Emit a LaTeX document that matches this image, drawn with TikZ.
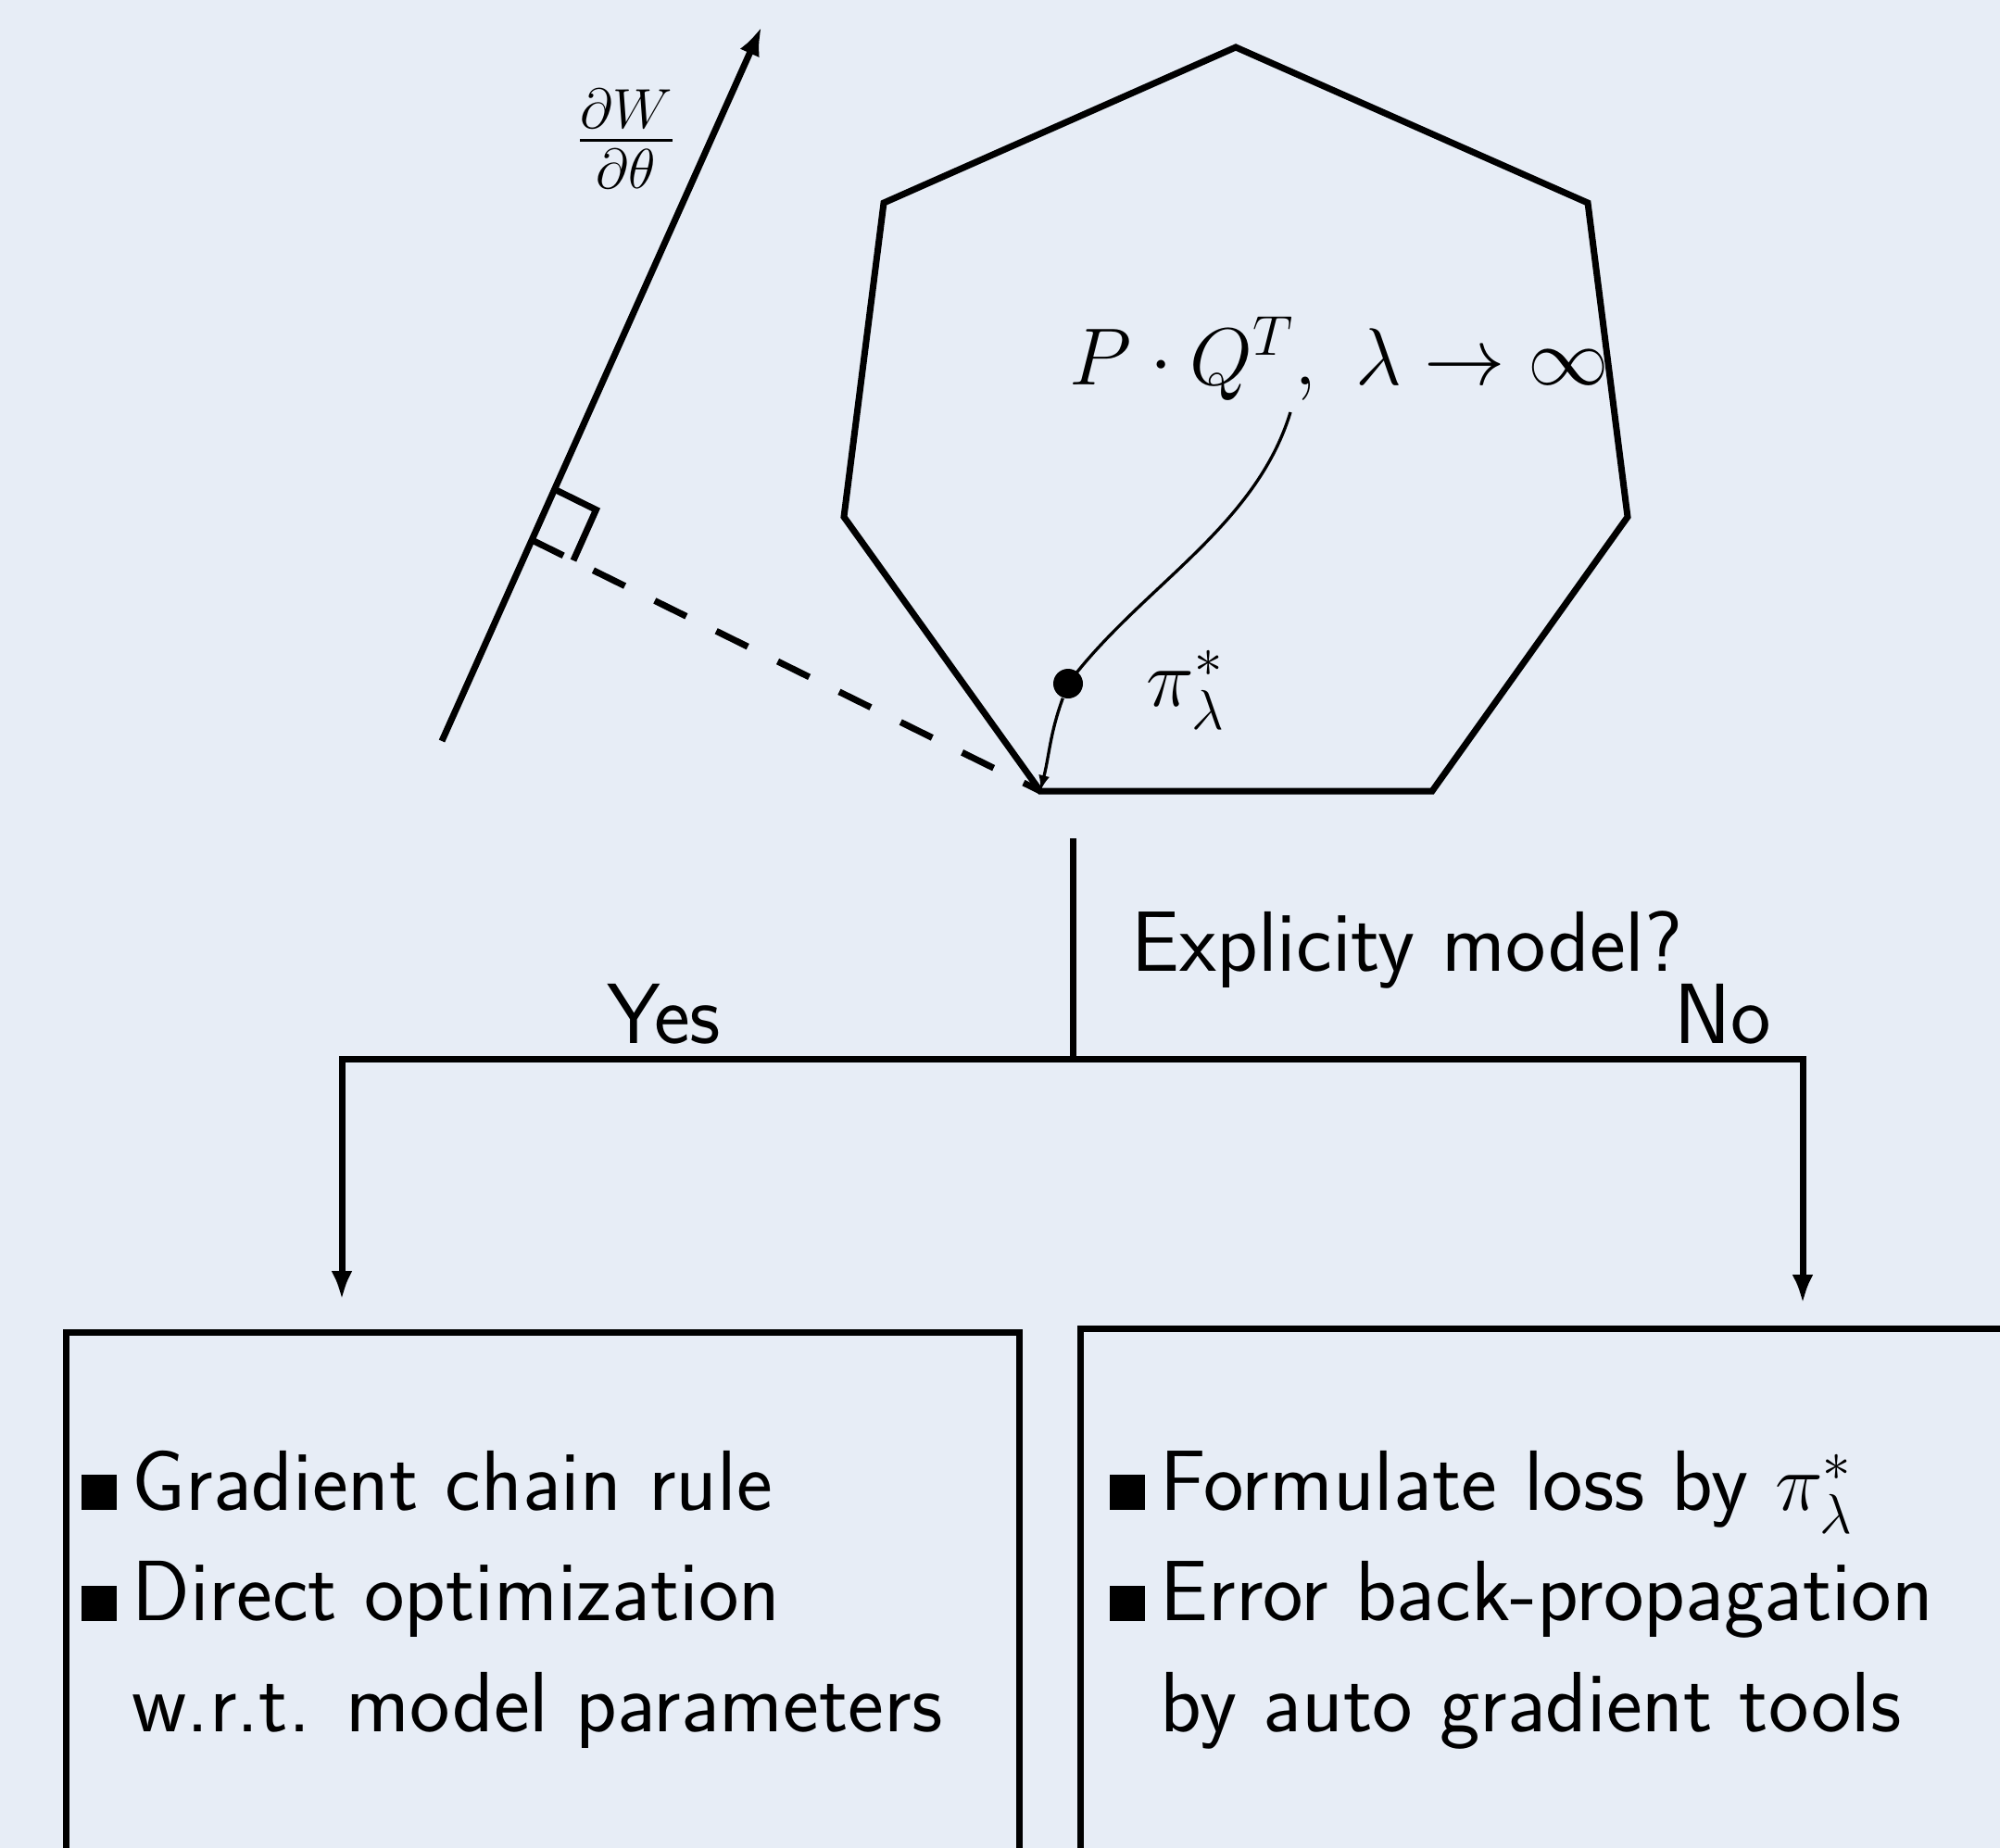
\documentclass[tikz,border=0pt]{standalone}
\usepackage{amsmath}
\usepackage{amssymb}
\usepackage{xcolor}
\usepackage{tikz}
\usetikzlibrary{arrows.meta,positioning,calc}
\definecolor{bgblue}{RGB}{231,237,246}
\newcommand{\itm}{\makebox[0.55cm][l]{\rule{0.38cm}{0.38cm}}}
\newcommand{\noitm}{\hspace*{0.55cm}}

\begin{document}
\begin{tikzpicture}[
  mathlbl/.style={font=\fontsize{26}{34}\selectfont, inner sep=0pt},
  lbl/.style={font=\fontsize{26.3}{34}\selectfont\sffamily, inner sep=0pt},
  items/.style={lbl, align=left, anchor=base west},
  frame/.style={draw, line width=0.07cm, anchor=north west, outer sep=0pt, inner sep=0pt, minimum height=8cm},
  poly/.style={line width=0.07cm, line join=miter},
  arr/.style={-{Latex[length=3.1mm, width=2.3mm]}, line width=0.07cm},
  thinarr/.style={-{Latex[length=1.7mm, width=1.2mm]}, line width=0.033cm},
]
\useasboundingbox (0,0) rectangle (21.59,-19.95);
\clip (0,0) rectangle (21.59,-19.95);
\fill[bgblue] (0,0) rectangle (21.59,-19.95);

\coordinate (h1) at (13.34,-0.51);
\coordinate (h2) at (17.14,-2.19);
\coordinate (h3) at (17.57,-5.58);
\coordinate (h4) at (15.46,-8.54);
\coordinate (h5) at (11.23,-8.54);
\coordinate (h6) at (9.11,-5.58);
\coordinate (h7) at (9.54,-2.19);
\draw[poly] (h1) -- (h2) -- (h3) -- (h4) -- (h5) -- (h6) -- (h7) -- cycle;

\coordinate (g0) at (4.77,-8.00);
\coordinate (g1) at (8.22,-0.29);
\draw[arr] (g0) -- (g1);
\node[mathlbl] (dwlbl) at (6.76,-1.50) {$\frac{\partial W}{\partial\theta}$};

\coordinate (ft) at ($(g0)!0.2815!(g1)$);
\coordinate (ra) at ($(ft)!0.6cm!(g1)$);
\coordinate (rb) at ($(ft)!0.5cm!(h5)$);
\coordinate (rc) at ($(ra)+(rb)-(ft)$);
\draw[line width=0.07cm] (ra) -- (rc) -- (rb);
\draw[line width=0.07cm, dash pattern=on 0.38cm off 0.36cm] (ft) -- (h5);

\node[mathlbl, anchor=base west] (pqlbl) at (11.54,-4.15) {$P\cdot Q^T,\ \lambda\to\infty$};
\coordinate (cstart) at (13.93,-4.45);
\node[circle, fill, inner sep=0pt, minimum size=0.32cm] (opt) at (11.53,-7.38) {};
\node[mathlbl, anchor=base west] (pilbl) at (12.37,-7.62) {$\pi^*_\lambda$};
\draw[line width=0.033cm] (cstart) .. controls (13.55,-5.70) and (12.31,-6.34) .. (opt.center);
\draw[thinarr] (opt) to[out=-110, in=76] (h5);

\coordinate (stem) at (11.58,-9.05);
\coordinate (split) at (11.58,-11.43);
\coordinate (yestip) at (3.69,-14.03);
\coordinate (notip) at (19.46,-14.07);
\draw[line width=0.07cm] (stem) -- (split);
\draw[arr] (split) -| (yestip);
\draw[arr] (split) -| (notip);
\node[lbl, anchor=base west] (ask) at (12.21,-10.48) {Explicity model?};
\node[lbl, anchor=base] (yes) at (7.17,-11.26) {Yes};
\node[lbl, anchor=base] (no) at (18.60,-11.26) {No};

\node[frame, minimum width=10.29cm] (yesbox) at (0.71,-14.38) {};
\node[frame, minimum width=12cm] (nobox) at (11.66,-14.34) {};
\node[items] (yestxt) at (0.87,-18.69) {\itm Gradient chain rule\\\itm Direct optimization\\\noitm w.r.t. model parameters};
\node[items] (notxt) at (11.97,-18.69) {\itm Formulate loss by $\pi^*_\lambda$\\\itm Error back-propagation\\\noitm by auto gradient tools};
\end{tikzpicture}
\end{document}
